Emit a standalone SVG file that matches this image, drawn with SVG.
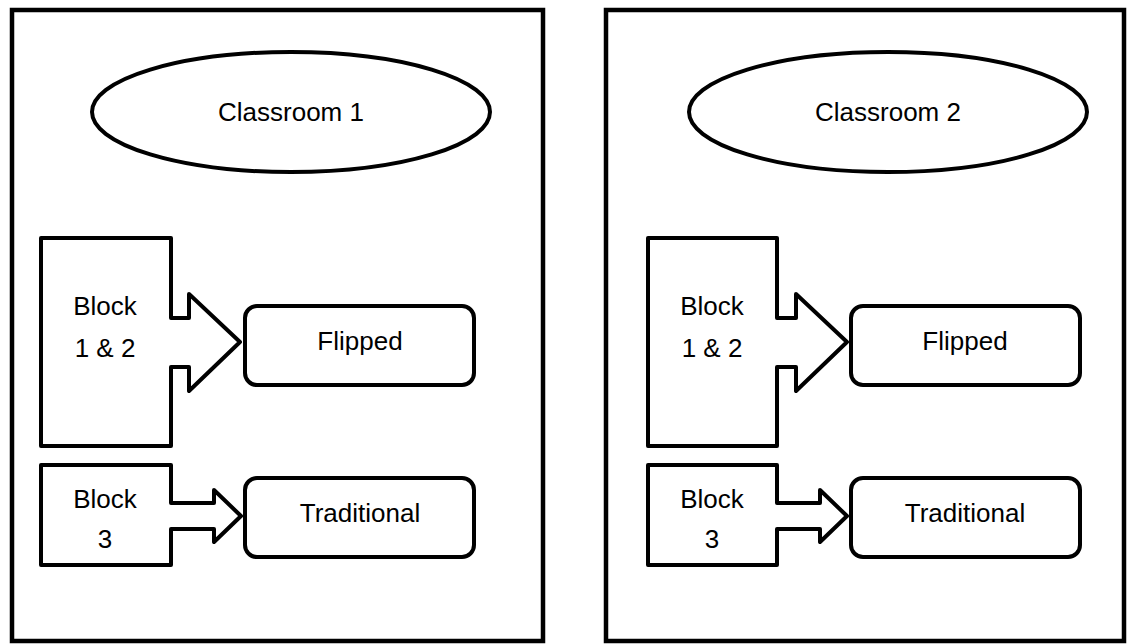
<svg xmlns="http://www.w3.org/2000/svg" width="1132" height="644" viewBox="0 0 1132 644">
<style>
.shape{fill:#fff;stroke:#000;stroke-width:4;stroke-linejoin:round}
.panel{fill:#fff;stroke:#000;stroke-width:4.5}
.t{font-family:"Liberation Sans",Arial,sans-serif;font-size:26px;fill:#000;text-anchor:middle}
</style>
<rect width="1132" height="644" fill="#fff"/>
<g id="panel1"><rect class="panel" x="12" y="10" width="531" height="631"/></g>
<g id="panel2"><rect class="panel" x="606" y="10" width="518" height="631"/></g>
<g id="classroom1"><ellipse class="shape" cx="291" cy="112" rx="199" ry="60"/><text class="t" x="291" y="121">Classroom 1</text></g>
<g id="classroom2"><ellipse class="shape" cx="888" cy="112" rx="199" ry="60"/><text class="t" x="888" y="121">Classroom 2</text></g>
<g id="block12-1"><path class="shape" d="M41,238 H171 V318 H189 V294 L240,342 L189,391 V367 H171 V446 H41 Z"/><text class="t" x="105" y="315">Block</text><text class="t" x="105" y="357">1 &amp; 2</text></g>
<g id="block3-1"><path class="shape" d="M41,465 H171 V503 H214 V490 L241,516 L214,542 V529 H171 V565 H41 Z"/><text class="t" x="105" y="508">Block</text><text class="t" x="105" y="548">3</text></g>
<g id="flipped1"><rect class="shape" x="245" y="306" width="229" height="79" rx="12"/><text class="t" x="360" y="350">Flipped</text></g>
<g id="traditional1"><rect class="shape" x="245" y="478" width="229" height="79" rx="12"/><text class="t" x="360" y="522">Traditional</text></g>
<g id="block12-2"><path class="shape" d="M648,238 H777 V318 H796 V294 L847,342 L796,391 V367 H777 V446 H648 Z"/><text class="t" x="712" y="315">Block</text><text class="t" x="712" y="357">1 &amp; 2</text></g>
<g id="block3-2"><path class="shape" d="M648,465 H777 V503 H820 V490 L847,516 L820,542 V529 H777 V565 H648 Z"/><text class="t" x="712" y="508">Block</text><text class="t" x="712" y="548">3</text></g>
<g id="flipped2"><rect class="shape" x="851" y="306" width="229" height="79" rx="12"/><text class="t" x="965" y="350">Flipped</text></g>
<g id="traditional2"><rect class="shape" x="851" y="478" width="229" height="79" rx="12"/><text class="t" x="965" y="522">Traditional</text></g>
<g id="connectors"/>
</svg>
